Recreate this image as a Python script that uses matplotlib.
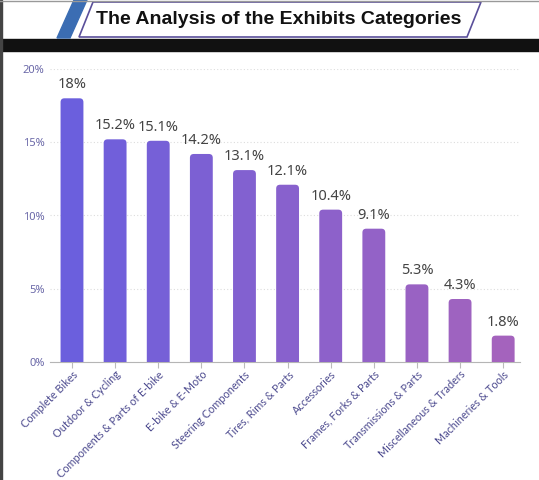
import matplotlib.pyplot as plt
import numpy as np
from matplotlib.patches import FancyBboxPatch, Polygon, Rectangle
from matplotlib.colors import to_rgb

categories = ['Complete Bikes', 'Outdoor & Cycling', 'Components & Parts of E-bike',
              'E-bike & E-Moto', 'Steering Components', 'Tires, Rims & Parts',
              'Accessories', 'Frames, Forks & Parts', 'Transmissions & Parts',
              'Miscellaneous & Traders', 'Machineries & Tools']
shares = [18, 15.2, 15.1, 14.2, 13.1, 12.1, 10.4, 9.1, 5.3, 4.3, 1.8]
y_ticks = [0, 5, 10, 15, 20]
title = 'The Analysis of the Exhibits Categories'

W, H = 539, 480
fig = plt.figure(figsize=(W / 100, H / 100), dpi=100)

# header drawn in pixel coords
bg = fig.add_axes([0, 0, 1, 1])
bg.set_xlim(0, W)
bg.set_ylim(H, 0)
bg.axis('off')
bg.add_patch(Rectangle((0, 39), W, 12, color='#111111'))
bg.add_patch(Rectangle((0, 0), 1.5, H, color='#444444'))
bg.plot([0, W], [0.5, 0.5], color='#999999', lw=1)
bg.add_patch(Polygon([(74, 0), (87, 0), (70, 38), (57, 38)], closed=True, color='#3b6db3'))
bg.add_patch(Polygon([(93, 2), (481, 2), (467, 37), (79, 37)], closed=True,
                     facecolor='white', edgecolor='#5a4f9a', lw=1.2))
bg.text(279, 20, title, ha='center', va='center', fontsize=14, fontweight='bold',
        family='Liberation Sans', color='#111111')

ax = fig.add_axes([50 / W, 1 - 362 / H, 470 / W, (362 - 69) / H])
x = np.arange(len(categories))
c0, c1 = np.array(to_rgb('#6b5fdd')), np.array(to_rgb('#a463bd'))
width = 0.53
bars = ax.bar(x, shares, width=width, alpha=0)
for i, b in enumerate(bars):
    t = i / (len(bars) - 1)
    col = c0 * (1 - t) + c1 * t
    ax.add_patch(FancyBboxPatch((b.get_x(), -1), b.get_width(), b.get_height() + 1,
                                boxstyle='round,pad=0,rounding_size=0.09',
                                mutation_aspect=2.9, facecolor=col, edgecolor='none',
                                zorder=3))
    ax.text(b.get_x() + b.get_width() / 2, b.get_height() + 0.4, f'{shares[i]:g}%',
            ha='center', va='bottom', fontsize=10.5, color='#444444', family='Noto Sans')

ax.set_xlim(-0.51, 10.39)
ax.set_ylim(0, 20)
ax.set_yticks(y_ticks)
ax.set_yticklabels([f'{v}%' for v in y_ticks])
ax.set_xticks(x)
ax.set_xticklabels(categories, rotation=45, ha='right', rotation_mode='anchor')
for lab in ax.get_xticklabels():
    lab.set_family('Lato')
    lab.set_fontsize(7.8)
    lab.set_color('#4d4b8f')
for lab in ax.get_yticklabels():
    lab.set_family('Noto Sans')
    lab.set_fontsize(8)
    lab.set_color('#6a68a8')
ax.tick_params(axis='y', length=0, pad=4)
ax.tick_params(axis='x', length=4, color='#bbbbbb', pad=1)
for s in ['top', 'right', 'left']:
    ax.spines[s].set_visible(False)
ax.spines['bottom'].set_color('#b5b5b5')
ax.grid(axis='y', linestyle=(0, (1, 2)), color='#dddddd', lw=0.8)
ax.set_axisbelow(True)

fig.savefig('out.png', dpi=100)
